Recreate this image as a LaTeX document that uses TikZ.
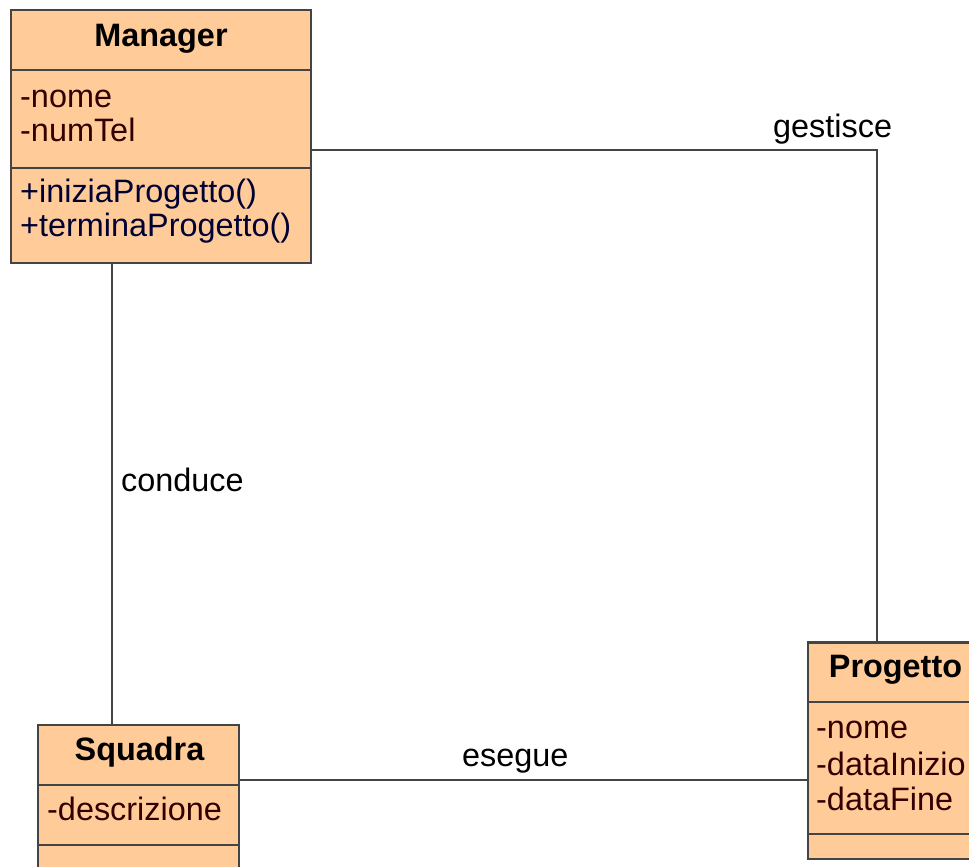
\documentclass[tikz,border=0pt]{standalone}
\usepackage{fontspec}
\setmainfont{Liberation Sans}
\definecolor{boxfill}{HTML}{FFCC99}
\definecolor{boxline}{HTML}{444444}
\definecolor{attrcol}{HTML}{330000}
\definecolor{methcol}{HTML}{000033}
\begin{document}
\begin{tikzpicture}[x=1pt,y=-1pt,
  classbox/.style={draw=boxline, fill=boxfill, line width=2.5pt, inner sep=0pt, rectangle},
  conn/.style={draw=boxline, line width=2.5pt},
  divider/.style={draw=boxline, line width=2.5pt},
  title/.style={font=\fontsize{32.4}{34}\selectfont\bfseries, text=black, inner sep=0pt, anchor=base},
  attr/.style={font=\fontsize{32.4}{34}\selectfont, text=attrcol, inner sep=0pt, anchor=base west},
  meth/.style={font=\fontsize{32.4}{34}\selectfont, text=methcol, inner sep=0pt, anchor=base west},
  lbl/.style={font=\fontsize{32.4}{34}\selectfont, text=black, inner sep=0pt, anchor=base west}]
\useasboundingbox (0,0) rectangle (969,867);
\clip (0,0) rectangle (969,867);
\fill[white] (0,0) rectangle (969,867);

% class boxes
\node[classbox, minimum width=300pt, minimum height=253pt] (manager) at (161,136.5) {};
\node[classbox, minimum width=201pt, minimum height=175pt] (squadra) at (138.5,812.5) {};
\node[classbox, minimum width=175pt, minimum height=216.5pt] (progetto) at (895.5,750.75) {};

% connectors
\coordinate (gcorner) at (877,150);
\draw[conn] (manager.east |- gcorner) -- (gcorner) -- (gcorner |- progetto.north);
\coordinate (cx) at (112,0);
\draw[conn] (cx |- manager.south) -- (cx |- squadra.north);
\coordinate (ey) at (0,780);
\draw[conn] (squadra.east |- ey) -- (progetto.west |- ey);

% Manager
\draw[divider] (manager.west |- 0,70) -- (manager.east |- 0,70);
\draw[divider] (manager.west |- 0,168) -- (manager.east |- 0,168);
\node[title] (mt) at (161,47) {Manager};
\node[attr] (ma1) at (20,107) {-nome};
\node[attr] (ma2) at (20,141) {-numTel};
\node[meth] (mm1) at (20,202) {+iniziaProgetto()};
\node[meth] (mm2) at (20,236) {+terminaProgetto()};

% Squadra
\draw[divider] (squadra.west |- 0,785) -- (squadra.east |- 0,785);
\draw[divider] (squadra.west |- 0,845) -- (squadra.east |- 0,845);
\node[title] (st) at (139.5,760) {Squadra};
\node[attr] (sa1) at (47,820) {-descrizione};

% Progetto
\draw[divider] (progetto.west |- 0,702) -- (progetto.east |- 0,702);
\draw[divider] (progetto.west |- 0,834) -- (progetto.east |- 0,834);
\node[title] (pt) at (895.5,677) {Progetto};
\node[attr] (pa1) at (816,738) {-nome};
\node[attr] (pa2) at (816,775) {-dataInizio};
\node[attr] (pa3) at (816,810) {-dataFine};

% labels
\node[lbl] (lg) at (773,137) {gestisce};
\node[lbl] (lc) at (121,491) {conduce};
\node[lbl] (le) at (462,766) {esegue};
\end{tikzpicture}
\end{document}
